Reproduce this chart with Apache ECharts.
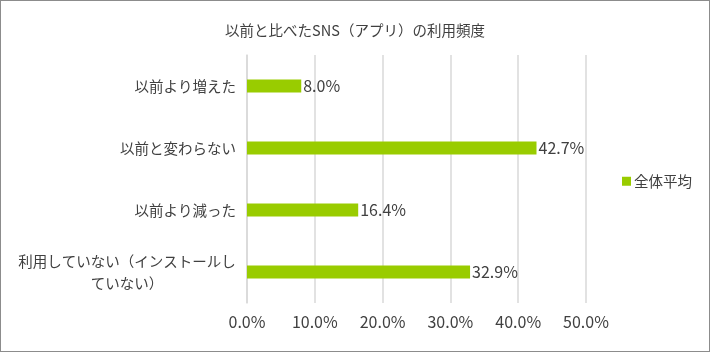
<!DOCTYPE html>
<html>
<head>
<meta charset="utf-8">
<script src="https://cdn.jsdelivr.net/npm/echarts@6/dist/echarts.min.js"></script>
<style>
  html, body { margin: 0; padding: 0; background: #fff; }
  #chart { width: 710px; height: 352px; box-sizing: border-box; border: 1px solid #8c8c8c; }
</style>
</head>
<body>
<div id="chart"></div>
<script>
// 回答カテゴリ（上から順）
const categories = ['以前より増えた', '以前と変わらない', '以前より減った', '利用していない（インストールしていない）'];
const values = [8.0, 42.7, 16.4, 32.9];
const seriesName = '全体平均';
const xTicks = [0, 10, 20, 30, 40, 50];

const font = '"Noto Sans CJK JP", sans-serif';
const chart = echarts.init(document.getElementById('chart'));

const option = {
  title: {
    text: '以前と比べたSNS（アプリ）の利用頻度',
    left: 'center',
    top: 17,
    textStyle: { fontFamily: font, fontSize: 14.5, fontWeight: 'normal', color: '#404040' }
  },
  legend: {
    data: [seriesName],
    left: 616,
    top: 168,
    icon: 'rect',
    itemWidth: 9,
    itemHeight: 9,
    itemGap: 4,
    textStyle: { fontFamily: font, fontSize: 14.5, color: '#404040', padding: [0, 0, 0, -2] }
  },
  grid: { left: 246, right: 123, top: 54, bottom: 48, containLabel: false },
  xAxis: {
    type: 'value',
    min: xTicks[0],
    max: xTicks[xTicks.length - 1],
    interval: 10,
    axisLine: { show: false },
    axisTick: { show: false },
    axisLabel: {
      fontFamily: font, fontSize: 16, color: '#404040', margin: 11,
      formatter: v => v.toFixed(1) + '%'
    },
    splitLine: { lineStyle: { color: '#d9d9d9', width: 1.5 } }
  },
  yAxis: {
    type: 'category',
    inverse: true,
    data: categories,
    axisLine: { lineStyle: { color: '#d9d9d9', width: 1.5 } },
    axisTick: { inside: true, length: 5, lineStyle: { color: '#d9d9d9' } },
    axisLabel: {
      fontFamily: font, fontSize: 14.5, color: '#404040', margin: 11, lineHeight: 22,
      formatter: function (v) {
        if (v.length > 12) {
          return '{c|' + v.slice(0, 15) + '}\n{c|' + v.slice(15) + '}';
        }
        return v;
      },
      rich: {
        c: { fontFamily: font, fontSize: 14.5, color: '#404040', width: 218, align: 'center', lineHeight: 22 }
      }
    }
  },
  series: [{
    name: seriesName,
    type: 'bar',
    data: values,
    barWidth: 13,
    itemStyle: { color: '#99cc00' },
    label: {
      show: true,
      position: 'right',
      distance: 2,
      fontFamily: font, fontSize: 16, color: '#404040',
      formatter: p => p.value.toFixed(1) + '%'
    }
  }]
};

chart.setOption(option);
</script>
</body>
</html>
